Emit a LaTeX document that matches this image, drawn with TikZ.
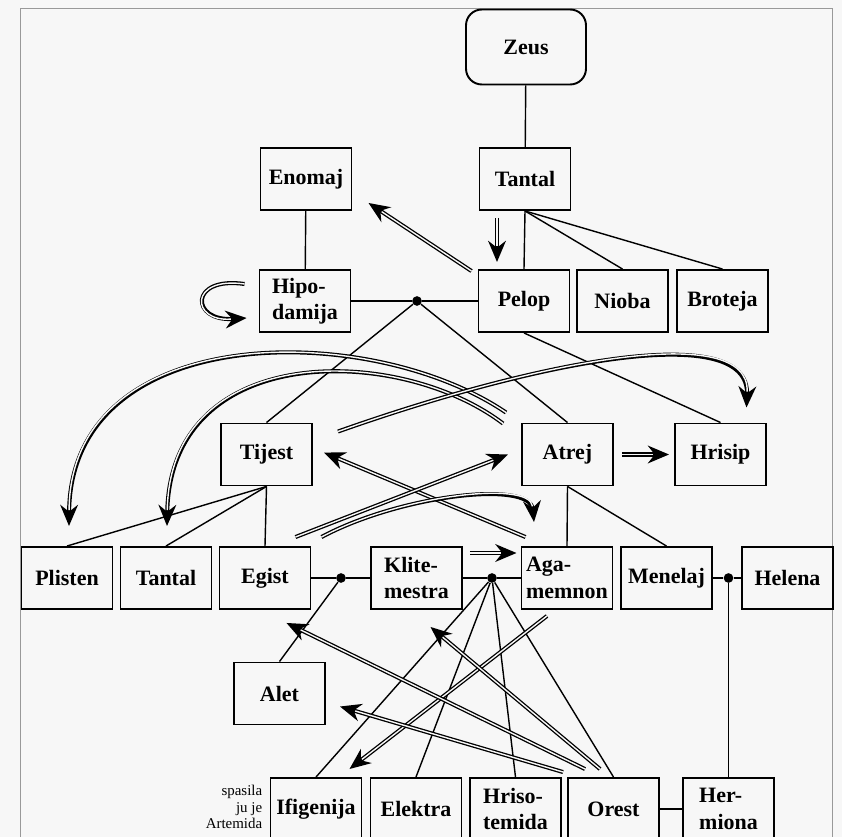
\documentclass[tikz,border=0pt]{standalone}
\usepackage{fontspec}
\setmainfont{Liberation Serif}
\usetikzlibrary{arrows.meta,calc,positioning}
\definecolor{paper}{gray}{0.97}
\definecolor{frame}{gray}{0.6}
\tikzset{>=latex}
\tikzset{%
  person/.style={draw, line width=1.1pt, fill=paper, minimum width=1.82cm,
    minimum height=1.24cm, inner sep=1pt, align=left,
    font=\fontsize{12.5}{15}\selectfont\bfseries},%
  god/.style={person, rounded corners=9pt, minimum width=2.4cm, minimum height=1.5cm},%
  kin/.style={line width=0.8pt},%
  deed/.style={line width=2.3pt, -{Stealth[length=12pt,width=10pt]},
    postaction={draw=paper, line width=0.8pt, -, shorten >=9pt}},%
  wed/.style={circle, fill, inner sep=0pt, minimum size=5.5pt},%
  note/.style={align=right, inner sep=0pt, font=\fontsize{8.5}{9.6}\selectfont}%
}

\begin{document}
\begin{tikzpicture}[x=0.02cm,y=-0.02cm]
  \clip (0,0) rectangle (842,837);
  \fill[paper] (0,0) rectangle (842,837);
  \draw[frame] (20,8) rectangle (832,850);
  % Zeus, Tantal and the house of Pelop
  \node[god] (zeus) at (526,47) {Zeus};
  \node[person] (tantal) at (525,179) {Tantal};
  \node[person] (enomaj) at (306,179) {Enomaj};
  \node[person] (hipodamija) at (305,301) {Hipo-\\damija};
  \node[person] (pelop) at (524,301) {Pelop};
  \node[person] (nioba) at (622.5,301) {Nioba};
  \node[person] (broteja) at (722.5,301) {Broteja};
  \node[wed] (pair1) at (417,301) {};
  % sons of Pelop
  \node[person] (tijest) at (266.5,454.5) {Tijest};
  \node[person] (atrej) at (567.5,454.5) {Atrej};
  \node[person] (hrisip) at (720.5,454.5) {Hrisip};
  % next generation
  \node[person] (plisten) at (67,578) {Plisten};
  \node[person] (tantaltwo) at (166,578) {Tantal};
  \node[person] (egist) at (265,578) {Egist};
  \node[person] (klite) at (416.5,578) {Klite-\\mestra};
  \node[person] (agamemnon) at (567,578) {Aga-\\memnon};
  \node[person] (menelaj) at (666.5,578) {Menelaj};
  \node[person] (helena) at (787.5,578) {Helena};
  \node[wed] (pair2) at (341,578) {};
  \node[wed] (pair3) at (492,578) {};
  \node[wed] (pair4) at (728.5,578) {};
  \node[person] (alet) at (279.5,693.5) {Alet};
  % children of Agamemnon
  \node[person] (ifigenija) at (316,809) {Ifigenija};
  \node[person] (elektra) at (416,809) {Elektra};
  \node[person] (hrisotemida) at (515.5,809) {Hriso-\\temida};
  \node[person] (orest) at (613.5,809) {Orest};
  \node[person] (hermiona) at (728.5,809) {Her-\\miona};
  \node[note, anchor=east] (rescue) at ($(ifigenija.west)+(-7,-2)$) {spasila\\ju je\\Artemida};

  % family lines
  \draw[kin] (zeus) -- (tantal);
  \draw[kin] (enomaj) -- (hipodamija);
  \draw[kin] (hipodamija) -- (pair1) -- (pelop);
  \draw[kin] (tantal.south) -- (pelop.north);
  \draw[kin] (tantal.south) -- (nioba.north);
  \draw[kin] (tantal.south) -- (broteja.north);
  \draw[kin] (pair1) -- (tijest.north);
  \draw[kin] (pair1) -- (atrej.north);
  \draw[kin] (pelop.south) -- (hrisip.north);
  \foreach \c in {plisten,tantaltwo,egist}
    \draw[kin] (tijest.south) -- (\c.north);
  \draw[kin] (atrej.south) -- (agamemnon.north);
  \draw[kin] (atrej.south) -- (menelaj.north);
  \draw[kin] (egist) -- (pair2) -- (klite);
  \draw[kin] (pair2) -- (alet.north);
  \draw[kin] (klite) -- (pair3) -- (agamemnon);
  \foreach \c in {ifigenija,elektra,hrisotemida,orest}
    \draw[kin] (pair3) -- (\c.north);
  \draw[kin] (menelaj) -- (pair4) -- (helena);
  \draw[kin] (pair4) -- (hermiona.north);
  \draw[kin] (orest) -- (hermiona);

  % deeds
  \draw[deed] ($(pelop.north west)+(-6,2)$) -- ($(enomaj.south east)+(16,-8)$);
  \draw[deed] ($(tantal.south)+(-28,7)$) -- ($(pelop.north)+(-27,-7)$);
  \draw[deed] ($(hipodamija.west)+(-14,-17)$) .. controls +(-56,-8) and +(-56,4) .. ($(hipodamija.west)+(-12,17)$);
  \draw[deed] ($(atrej.north west)+(-15,-10)$) .. controls (370,320) and (70,320) .. ($(plisten.north)+(2,-20)$);
  \draw[deed] ($(atrej.north west)+(-18,1)$) .. controls (400,345) and (170,340) .. ($(tantaltwo.north)+(1,-20)$);
  \draw[deed] ($(tijest.north east)+(25,9)$) .. controls (540,360) and (750,320) .. ($(hrisip.north)+(26,-15)$);
  \draw[deed] ($(atrej.east)+(8,0)$) -- ($(hrisip.west)+(-5,0)$);
  \draw[deed] ($(agamemnon.north west)+(5,-9)$) -- ($(tijest.east)+(11,-2)$);
  \draw[deed] ($(egist.north east)+(-16,-9)$) -- ($(atrej.west)+(-13,0)$);
  \draw[deed] ($(egist.north east)+(10,-9)$) .. controls (400,495) and (530,480) .. ($(agamemnon.north)+(-33,-24)$);
  \draw[deed] ($(klite.east)+(7,-25)$) -- ($(agamemnon.west)+(-4,-25)$);
  \draw[deed] ($(agamemnon.south)+(-20,6)$) -- ($(ifigenija.north east)+(-13,-8)$);
  \draw[deed] ($(orest.north west)+(18,-8)$) -- ($(egist.south east)+(-25,13)$);
  \draw[deed] ($(orest.north west)+(33,-8)$) -- ($(klite.south)+(14,17)$);
  \draw[deed] ($(orest.north west)+(-4,-5)$) -- ($(alet.east)+(14,13)$);
\end{tikzpicture}
\end{document}
